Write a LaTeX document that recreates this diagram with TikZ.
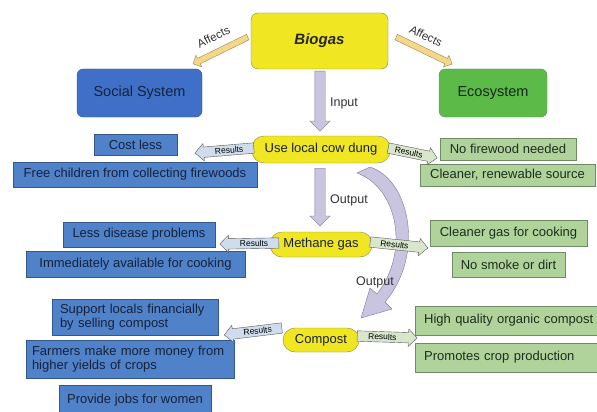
\documentclass[tikz,border=0pt]{standalone}
\usepackage{fontspec}
\setmainfont{Liberation Sans}
\usetikzlibrary{shapes.arrows,calc}
\definecolor{ylw}{HTML}{F0E622}
\definecolor{ylwd}{HTML}{8A8650}
\definecolor{bluef}{HTML}{4F82C8}
\definecolor{blued}{HTML}{34578A}
\definecolor{bluet}{HTML}{16223C}
\definecolor{greenf}{HTML}{AFD39B}
\definecolor{greend}{HTML}{6E8A66}
\definecolor{greent}{HTML}{1E2E1E}
\definecolor{socf}{HTML}{3F6FC6}
\definecolor{ecof}{HTML}{5CBB48}
\definecolor{lav}{HTML}{C9C4E0}
\definecolor{lavd}{HTML}{7E7A96}
\definecolor{resb}{HTML}{CFDCEC}
\definecolor{resg}{HTML}{D8E6CC}
\definecolor{affc}{HTML}{F3D88A}
\definecolor{affd}{HTML}{9C8650}
\definecolor{lbl}{HTML}{333333}
\tikzset{
  yel/.style={draw=ylwd, fill=ylw, text=bluet, rounded corners=12pt, inner sep=0pt, font=\fontsize{13}{15}\selectfont},
  bbox/.style={draw=blued, fill=bluef, text=bluet, inner sep=0pt, font=\fontsize{13}{15}\selectfont},
  gbox/.style={draw=greend, fill=greenf, text=greent, inner sep=0pt, font=\fontsize{13}{15}\selectfont},
  bigarrow/.style={single arrow, draw=lavd, fill=lav, inner xsep=0pt, inner ysep=5pt, text height=0pt, text depth=0pt, single arrow head extend=5pt, anchor=tail},
  resarrow/.style={single arrow, draw=gray!70!black, inner xsep=0pt, inner ysep=1.5pt, text height=5.5pt, text depth=1.5pt, single arrow head extend=3.5pt, anchor=tail},
  restext/.style={inner sep=0pt, text=black, font=\fontsize{8.5}{9}\selectfont},
  affarrow/.style={single arrow, draw=affd, fill=affc, inner xsep=0pt, inner ysep=2.8pt, text height=0pt, text depth=0pt, single arrow head extend=3.5pt, anchor=tail},
  lbltext/.style={inner sep=0pt, text=lbl, font=\fontsize{12.5}{14}\selectfont},
  afftext/.style={inner sep=0pt, text=lbl, font=\fontsize{11.5}{13}\selectfont},
}
\begin{document}
\begin{tikzpicture}[x=1pt,y=-1pt]
\useasboundingbox[fill=white] (0,0) rectangle (597,412);

% main nodes
\node[draw=ylwd, fill=ylw, rounded corners=7pt, minimum width=137pt, minimum height=56pt, inner sep=0pt, text=black!85, font=\fontsize{15}{17}\selectfont\bfseries\itshape] (biogas) at (319.5,41) {Biogas};
\node[draw=blued, fill=socf, rounded corners=6pt, minimum width=125pt, minimum height=48pt, inner sep=0pt, text=bluet, font=\fontsize{14.5}{16}\selectfont] (social) at (139.5,93) {Social System};
\node[draw=greend, fill=ecof, rounded corners=6pt, minimum width=108pt, minimum height=48pt, inner sep=0pt, text=greent!80!black, font=\fontsize{14.5}{16}\selectfont] (eco) at (493,93) {Ecosystem};

\node[yel, minimum width=138pt, minimum height=27pt] (cowdung) at (321,149.5) {Use local cow dung};
\node[yel, minimum width=102pt, minimum height=25pt] (methane) at (321,244.5) {Methane gas};
\node[yel, minimum width=76pt, minimum height=24pt] (compost) at (321,340) {Compost};

% blue result boxes
\node[bbox, minimum width=83pt, minimum height=21pt] (costless) at (135.5,144.5) {Cost less};
\node[bbox, minimum width=244pt, minimum height=25pt] (freechild) at (135,174.5) {Free children from collecting firewoods};
\node[bbox, minimum width=152pt, minimum height=25pt] (disease) at (139,234.5) {Less disease problems};
\node[bbox, minimum width=219pt, minimum height=26pt] (immed) at (135.5,264) {Immediately available for cooking};
\node[bbox, minimum height=36pt, inner xsep=8pt, text width=150pt, align=left, font=\fontsize{13}{14.5}\selectfont] (support) at (135,317) {Support locals financially\\by selling compost};
\node[bbox, minimum height=38pt, inner xsep=6pt, text width=196pt, align=left, font=\fontsize{13}{14.5}\selectfont] (farmers) at (130,359) {Farmers make more money from\\higher yields of crops};
\node[bbox, minimum width=152pt, minimum height=30pt] (jobs) at (135,400) {Provide jobs for women};

% green result boxes
\node[gbox, minimum width=136pt, minimum height=22pt] (nofire) at (508,149) {No firewood needed};
\node[gbox, minimum width=175pt, minimum height=22pt] (cleaner) at (507.5,175) {Cleaner, renewable source};
\node[gbox, minimum width=157pt, minimum height=26pt] (cleangas) at (508.5,233) {Cleaner gas for cooking};
\node[gbox, minimum width=113pt, minimum height=25pt] (nosmoke) at (508.5,264.5) {No smoke or dirt};
\node[gbox, anchor=west, minimum height=29pt, inner xsep=9pt, text width=182pt, align=left] (highq) at (415,320.5) {High quality organic compost};
\node[gbox, anchor=west, minimum height=29pt, inner xsep=9pt, text width=182pt, align=left] (promotes) at (415,357.5) {Promotes crop production};

% Affects arrows
\node[affarrow, rotate=206.1, minimum height=61pt] (aff1) at (248,37) {};
\node[afftext, rotate=26] at (213.5,37) {Affects};
\node[affarrow, rotate=-25.7, minimum height=62pt] (aff2) at (396,37) {};
\node[afftext, rotate=-26] at (426,36) {Affects};

% Input / Output arrows
\node[bigarrow, rotate=-90, minimum height=60pt] (input) at (320,71) {};
\node[lbltext] at (344,103) {Input};
\node[bigarrow, rotate=-90, minimum height=58pt] (output) at (320,168) {};
\node[lbltext] at (349,200) {Output};

% curved output arrow
\draw[draw=lavd, fill=lav, line join=round]
  (357,173) -- (370,167)
  .. controls (410,180) and (425,255) .. (385,302)
  -- (392,309) -- (361,318) -- (370,288) -- (377,294)
  .. controls (410,252) and (398,188) .. (357,173) -- cycle;
\node[lbltext] at (375,282) {Output};

% Results arrows
\node[resarrow, fill=resb, rotate=184.8, minimum height=59pt] (r1) at (254,148) {};
\node[restext, rotate=4.8] at ($(r1.tail)!0.42!(r1.tip)$) {Results};
\node[resarrow, fill=resg, rotate=-11.5, minimum height=50pt] (r2) at (388,148) {};
\node[restext, rotate=-11.5] at ($(r2.tail)!0.42!(r2.tip)$) {Results};
\node[resarrow, fill=resb, rotate=181, minimum height=59pt] (r3) at (279,243) {};
\node[restext, rotate=1] at ($(r3.tail)!0.42!(r3.tip)$) {Results};
\node[resarrow, fill=resg, rotate=-5.9, minimum height=58pt] (r4) at (370,242) {};
\node[restext, rotate=-5.9] at ($(r4.tail)!0.42!(r4.tip)$) {Results};
\node[resarrow, fill=resb, rotate=186.9, minimum height=58pt] (r5) at (282,328) {};
\node[restext, rotate=6.9] at ($(r5.tail)!0.42!(r5.tip)$) {Results};
\node[resarrow, fill=resg, rotate=-1.9, minimum height=60pt] (r6) at (357,336) {};
\node[restext, rotate=-1.9] at ($(r6.tail)!0.42!(r6.tip)$) {Results};
\end{tikzpicture}
\end{document}
